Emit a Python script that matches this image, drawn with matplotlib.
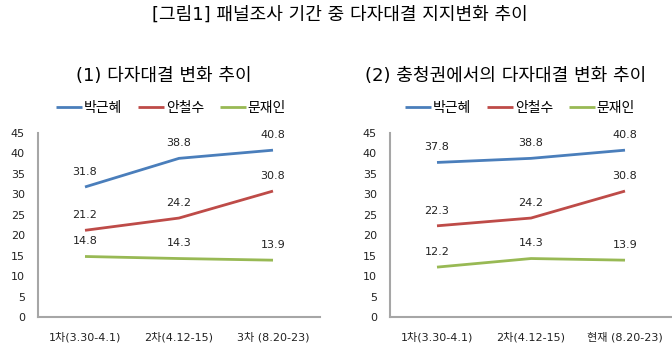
import matplotlib
matplotlib.use('Agg')
import matplotlib.pyplot as plt

plt.rcParams['font.family'] = ['DejaVu Sans', 'Noto Sans CJK KR']

# data
candidates = ['박근혜', '안철수', '문재인']
colors = ['#4A7EBB', '#BE4B48', '#98B954']

labels_all = ['1차(3.30-4.1)', '2차(4.12-15)', '3차 (8.20-23)']
park_all = [31.8, 38.8, 40.8]
ahn_all = [21.2, 24.2, 30.8]
moon_all = [14.8, 14.3, 13.9]

labels_cc = ['1차(3.30-4.1)', '2차(4.12-15)', '현재 (8.20-23)']
park_cc = [37.8, 38.8, 40.8]
ahn_cc = [22.3, 24.2, 30.8]
moon_cc = [12.2, 14.3, 13.9]

W, H = 672, 355
fig = plt.figure(figsize=(W / 100, H / 100), dpi=100)
fig.patch.set_facecolor('white')


def px_axes(x0, y_top, x1, y_bot):
    return fig.add_axes([x0 / W, 1 - y_bot / H, (x1 - x0) / W, (y_bot - y_top) / H])


def draw_panel(ax, xlabels, series, title, title_x, legend_x):
    xs = range(len(xlabels))
    handles = []
    for vals, c in zip(series, colors):
        h, = ax.plot(xs, vals, color=c, lw=2, solid_capstyle='butt')
        handles.append(h)
        for x, v in zip(xs, vals):
            ax.annotate(f'{v:.1f}', (x, v), xytext=(0, 11), textcoords='offset points',
                        ha='center', va='center', fontsize=8, color='#222222')
    ax.set_xlim(-0.5, len(xlabels) - 0.5)
    ax.set_ylim(0, 45)
    ax.set_yticks(range(0, 46, 5))
    ax.set_xticks(list(xs))
    ax.set_xticklabels(xlabels)
    ax.tick_params(length=0, labelsize=8, colors='#222222')
    ax.tick_params(axis='y', pad=9.5)
    ax.tick_params(axis='x', pad=11)
    for s in ['top', 'right']:
        ax.spines[s].set_visible(False)
    for s in ['left', 'bottom']:
        ax.spines[s].set_color('#A6A6A6')
        ax.spines[s].set_linewidth(1.5)
    fig.text(title_x / W, 1 - 76 / H, title, ha='center', va='center', fontsize=13)
    fig.legend(handles, candidates, loc='center', ncol=3, frameon=False,
               bbox_to_anchor=(legend_x / W, 1 - 108 / H), fontsize=10,
               handlelength=1.9, handletextpad=0.1, columnspacing=1.15)


ax1 = px_axes(38, 133, 320, 317)
draw_panel(ax1, labels_all, [park_all, ahn_all, moon_all], '(1) 다자대결 변화 추이', 164, 171)

ax2 = px_axes(390, 133, 672, 317)
draw_panel(ax2, labels_cc, [park_cc, ahn_cc, moon_cc], '(2) 충청권에서의 다자대결 변화 추이', 506, 520)

fig.text(340 / W, 1 - 15 / H, '[그림1] 패널조사 기간 중 다자대결 지지변화 추이',
         ha='center', va='center', fontsize=13)

plt.savefig('out.png', dpi=100, facecolor='white')
plt.close()
